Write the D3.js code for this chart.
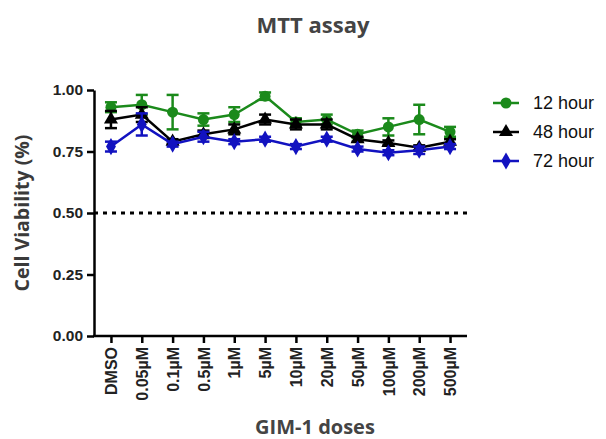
<!DOCTYPE html>
<html>
<head>
<meta charset="utf-8">
<script src="https://cdn.jsdelivr.net/npm/d3@7"></script>
<style>
  body { margin: 0; background: #fff; }
  svg { display: block; }
  .axis path, .axis line { stroke: #000; stroke-width: 2.5px; }
  .axis text { font-family: "Liberation Sans", Arial, sans-serif; font-weight: bold; fill: #222; }
</style>
</head>
<body>
<div id="chart-area"></div>
<script>
// Data
var doses = ["DMSO", "0.05µM", "0.1µM", "0.5µM", "1µM", "5µM", "10µM", "20µM", "50µM", "100µM", "200µM", "500µM"];
var yTicks = [0, 0.25, 0.5, 0.75, 1.0];
var seriesNames = ["12 hour", "48 hour", "72 hour"];

var h12 = [0.93, 0.94, 0.91, 0.88, 0.90, 0.975, 0.87, 0.88, 0.82, 0.85, 0.88, 0.83];
var h12Err = [0.02, 0.04, 0.07, 0.025, 0.03, 0.015, 0.015, 0.02, 0.015, 0.035, 0.06, 0.02];
var h48 = [0.88, 0.90, 0.79, 0.82, 0.84, 0.88, 0.86, 0.86, 0.80, 0.785, 0.765, 0.79];
var h48Err = [0.035, 0.03, 0.01, 0.015, 0.02, 0.02, 0.02, 0.02, 0.01, 0.01, 0.01, 0.01];
var h72 = [0.77, 0.86, 0.78, 0.81, 0.79, 0.80, 0.77, 0.80, 0.76, 0.745, 0.755, 0.77];
var h72Err = [0.02, 0.045, 0.01, 0.02, 0.01, 0.01, 0.01, 0.01, 0.01, 0.01, 0.015, 0.01];
var cutoff = 0.5;

var series = [
  { name: seriesNames[0], values: h12, err: h12Err, color: "#1b8a1b", symbol: d3.symbolCircle, size: 95 },
  { name: seriesNames[1], values: h48, err: h48Err, color: "#000000", symbol: d3.symbolTriangle, size: 85 },
  { name: seriesNames[2], values: h72, err: h72Err, color: "#1212c0", symbol: d3.symbolDiamond, size: 85 }
];

var margin = { left: 94, top: 90, right: 139, bottom: 103 },
  width = 606 - margin.left - margin.right,
  height = 439 - margin.top - margin.bottom;

var svg = d3.select("#chart-area")
  .append("svg")
  .attr("width", 606)
  .attr("height", 439);

var g = svg.append("g")
  .attr("transform", "translate(" + margin.left + "," + margin.top + ")");

// Scales
var x = d3.scalePoint().domain(doses).range([0, width]).padding(0.55);
var y = d3.scaleLinear().domain([0, 1]).range([height, 0]);

// Title
svg.append("text")
  .attr("x", 313)
  .attr("y", 33)
  .attr("text-anchor", "middle")
  .attr("font-family", "'Open Sans', sans-serif")
  .attr("font-weight", "bold")
  .attr("font-size", "22px")
  .attr("fill", "#444")
  .text("MTT assay");

// Y axis
var yAxis = g.append("g")
  .attr("class", "y axis")
  .call(d3.axisLeft(y).tickValues(yTicks).tickFormat(d3.format(".2f")).tickSize(7).tickSizeOuter(0));
yAxis.selectAll("text").attr("font-size", "15.5px").attr("dx", "-1px");

// X axis
var xAxis = g.append("g")
  .attr("class", "x axis")
  .attr("transform", "translate(0," + height + ")")
  .call(d3.axisBottom(x).tickSize(7).tickSizeOuter(0));
xAxis.select(".domain").attr("d", "M-1,0H" + width);
xAxis.selectAll("text")
  .attr("font-size", "16px")
  .attr("font-family", "'Open Sans', sans-serif")
  .attr("transform", "rotate(-90)")
  .attr("text-anchor", "end")
  .attr("x", -11)
  .attr("y", 0)
  .attr("dy", "0.35em");

// Axis labels
svg.append("text")
  .attr("transform", "rotate(-90)")
  .attr("x", -213)
  .attr("y", 29)
  .attr("text-anchor", "middle")
  .attr("font-family", "'Open Sans', sans-serif")
  .attr("font-weight", "bold")
  .attr("font-size", "19.5px")
  .attr("fill", "#3a3a3a")
  .text("Cell Viability (%)");

svg.append("text")
  .attr("x", 315)
  .attr("y", 434)
  .attr("text-anchor", "middle")
  .attr("font-family", "'Open Sans', sans-serif")
  .attr("font-weight", "bold")
  .attr("font-size", "20px")
  .attr("fill", "#444")
  .text("GIM-1 doses");

// 50% cutoff line
g.append("line")
  .attr("x1", 0)
  .attr("x2", width)
  .attr("y1", y(cutoff))
  .attr("y2", y(cutoff))
  .attr("stroke", "#000")
  .attr("stroke-width", 3)
  .attr("stroke-dasharray", "4,5");

// Series
var line = d3.line()
  .x(function(d, i) { return x(doses[i]); })
  .y(function(d) { return y(d); });

series.forEach(function(s) {
  var sg = g.append("g");
  sg.append("path")
    .attr("d", line(s.values))
    .attr("fill", "none")
    .attr("stroke", s.color)
    .attr("stroke-width", 2.5);

  var eb = sg.selectAll(".err")
    .data(s.values)
    .enter()
    .append("g")
    .attr("stroke", s.color)
    .attr("stroke-width", 2.5);
  eb.append("line")
    .attr("x1", function(d, i) { return x(doses[i]); })
    .attr("x2", function(d, i) { return x(doses[i]); })
    .attr("y1", function(d, i) { return y(d + s.err[i]); })
    .attr("y2", function(d, i) { return y(d - s.err[i]); });
  eb.append("line")
    .attr("x1", function(d, i) { return x(doses[i]) - 6; })
    .attr("x2", function(d, i) { return x(doses[i]) + 6; })
    .attr("y1", function(d, i) { return y(d + s.err[i]); })
    .attr("y2", function(d, i) { return y(d + s.err[i]); });
  eb.append("line")
    .attr("x1", function(d, i) { return x(doses[i]) - 6; })
    .attr("x2", function(d, i) { return x(doses[i]) + 6; })
    .attr("y1", function(d, i) { return y(d - s.err[i]); })
    .attr("y2", function(d, i) { return y(d - s.err[i]); });

  sg.selectAll(".pt")
    .data(s.values)
    .enter()
    .append("path")
    .attr("d", d3.symbol().type(s.symbol).size(s.size))
    .attr("transform", function(d, i) { return "translate(" + x(doses[i]) + "," + y(d) + ")"; })
    .attr("fill", s.color);
});

// Legend
var legend = svg.append("g").attr("transform", "translate(493,103)");
series.forEach(function(s, i) {
  var lg = legend.append("g").attr("transform", "translate(0," + i * 29 + ")");
  lg.append("line")
    .attr("x1", 0).attr("x2", 26)
    .attr("stroke", s.color)
    .attr("stroke-width", 2.5);
  lg.append("path")
    .attr("d", d3.symbol().type(s.symbol).size(s.size))
    .attr("transform", "translate(13,0)")
    .attr("fill", s.color);
  lg.append("text")
    .attr("x", 40)
    .attr("dy", "0.35em")
    .attr("font-family", "'Liberation Sans', Arial, sans-serif")
    .attr("font-size", "18px")
    .attr("fill", "#111")
    .text(s.name);
});
</script>
</body>
</html>
